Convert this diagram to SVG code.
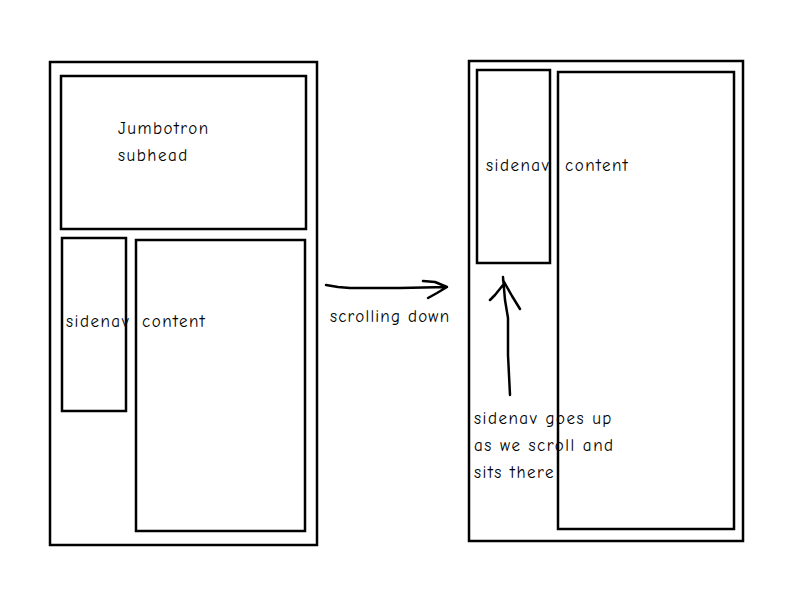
<svg xmlns="http://www.w3.org/2000/svg" width="800" height="600" viewBox="0 0 800 600">
<style>
.box{fill:none;stroke:#000;stroke-width:2.5}
.t{font-family:"Comic Neue","Liberation Sans Narrow","DejaVu Sans Condensed",sans-serif;font-size:17px;letter-spacing:1.5px;fill:#000}
.c{fill:none;stroke:#000;stroke-width:2.5;stroke-linecap:round;stroke-linejoin:round}
</style>
<rect width="800" height="600" fill="#fff"/>
<g id="left-page"><rect class="box" x="50" y="62" width="267" height="483"/></g>
<g id="jumbotron"><rect class="box" x="61" y="76" width="245" height="153"/>
<text class="t" x="118" y="134">Jumbotron</text><text class="t" x="118" y="161">subhead</text></g>
<g id="left-sidenav"><rect class="box" x="62" y="238" width="64" height="173"/><text class="t" x="66" y="327">sidenav</text></g>
<g id="left-content"><rect class="box" x="136" y="240" width="169" height="291"/><text class="t" x="142" y="327">content</text></g>
<g id="right-page"><rect class="box" x="469" y="61" width="274" height="480"/></g>
<g id="right-sidenav"><rect class="box" x="477" y="70" width="73" height="193"/><text class="t" x="486" y="171">sidenav</text></g>
<g id="right-content"><rect class="box" x="558" y="72" width="176" height="457"/><text class="t" x="565" y="171">content</text></g>
<g id="connectors">
<path class="c" d="M326 285 L338 287 L350 288 L400 288 L447 287 M423 281 L435 282 L447 287 L437 293 L428 298"/>
<path class="c" d="M510 395 L508 355 L508 318 L505 300 L503 277 M490 300 L495 295 L503 285 M503 280 L512 296 L520 309"/>
</g>
<g id="labels">
<text class="t" x="330" y="322" style="letter-spacing:1.2px">scrolling down</text>
<text class="t" x="474" y="424">sidenav goes up</text>
<text class="t" x="474" y="451">as we scroll and</text>
<text class="t" x="474" y="478">sits there</text>
</g>
</svg>
